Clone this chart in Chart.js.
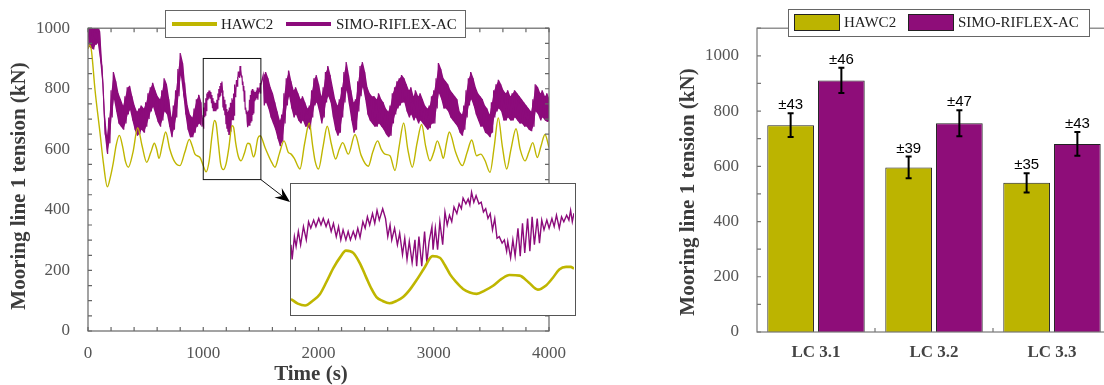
<!DOCTYPE html>
<html><head><meta charset="utf-8">
<script src="https://cdn.jsdelivr.net/npm/chart.js@4.4.1/dist/chart.umd.min.js"></script>
<style>
html,body{margin:0;padding:0;background:#fff;overflow:hidden;width:1104px;height:385px;}
#wrap{position:relative;width:1104px;height:385px;overflow:hidden;background:#fff;}
#cL{position:absolute;left:0;top:0;}
#inset{position:absolute;left:290px;top:183px;width:286px;height:133px;box-sizing:border-box;border:1.5px solid #555;background:#fff;}
#cI{display:block;}
#cR{position:absolute;left:660px;top:0;}
</style></head><body>
<div id="wrap">
<canvas id="cL" width="580" height="385"></canvas>
<div id="inset"><canvas id="cI" width="283" height="130"></canvas></div>
<canvas id="cR" width="460" height="385"></canvas>
</div>
<script>
// ---------- data ----------
const seriesNames = ['HAWC2', 'SIMO-RIFLEX-AC'];
const xTicks = [0, 1000, 2000, 3000, 4000];
const yTicksL = [0, 200, 400, 600, 800, 1000];
const yTicksR = [0, 200, 400, 600, 800, 1000];
const xTitle = 'Time (s)';
const yTitle = 'Mooring line 1 tension (kN)';

// HAWC2 time series (s, kN)
const hawcT = [0,15,30,61,104,133,168,195,220,245,272,300,325,350,390,431,470,509,545,576,596,616,645,674,710,750,798,840,879,905,928,972,
1000,1025,1051,1075,1097,1110,1133,1151,1174,1198,1221,1250,1263,1281,1304,1328,1357,1386,1404,1436,1450,1474,1494,
1536,1594,1622,1660,1701,1738,1760,1790,1839,1880,1920,1950,1970,2000,2040,2076,2110,2149,2180,2210,2259,2317,2370,2432,2470,2513,2545,2577,2620,2664,2700,2739,2775,2814,2855,2895,2930,2967,
3000,3031,3060,3083,3110,3135,3190,3248,3290,3329,3372,3407,3445,3488,3525,3560,3595,3633,3670,3714,3750,3792,3825,3859,3899,3930,3965,4000];
const hawcV = [932,945,925,796,655,557,476,510,557,615,646,610,560,541,590,671,610,557,590,620,600,570,615,657,600,560,546,590,633,610,584,573,
546,526,561,642,695,688,612,552,533,552,602,678,673,622,577,562,587,620,618,575,587,637,645,
606,557,541,585,628,590,585,570,535,620,687,610,562,535,610,676,620,568,600,622,584,649,580,544,590,628,600,584,579,530,610,687,600,541,620,682,610,562,
590,628,600,570,620,657,590,546,590,631,579,584,563,524,610,704,610,535,600,668,600,562,590,622,573,610,649,606];

// SIMO-RIFLEX-AC envelope of the wave-frequency band (s, upper kN, lower kN)
const simoT = [0,20,40,60,80,100,120,140,160,180,200,220,240,260,280,300,320,340,360,380,400,420,440,460,480,500,520,540,560,580,600,620,640,660,680,700,720,740,760,780,800,820,840,860,880,900,920,940,960,980,
1520,1540,1560,1580,1600,1620,1640,1660,1680,1700,1720,1740,1760,1780,1800,1820,1840,1860,1880,1900,1920,1940,1960,1980,
2000,2020,2040,2060,2080,2100,2120,2140,2160,2180,2200,2220,2240,2260,2280,2300,2320,2340,2360,2380,2400,2420,2440,2460,2480,2500,2520,2540,2560,2580,2600,2620,2640,2660,2680,2700,2720,2740,2760,2780,2800,2820,2840,2860,2880,2900,2920,2940,2960,2980,
3000,3020,3040,3060,3080,3100,3120,3140,3160,3180,3200,3220,3240,3260,3280,3300,3320,3340,3360,3380,3400,3420,3440,3460,3480,3500,3520,3540,3560,3580,3600,3620,3640,3660,3680,3700,3720,3740,3760,3780,3800,3820,3840,3860,3880,3900,3920,3940,3960,3980,4000];
const simoHi = [1010,1010,1005,1010,1015,990,875,725,645,705,795,855,825,785,765,745,775,805,810,775,745,725,735,745,735,755,785,805,820,795,775,765,795,835,815,765,705,745,795,865,918,885,805,745,715,705,735,765,780,755,
845,855,835,805,785,755,725,695,715,785,835,860,825,795,805,785,765,775,755,735,745,795,835,845,
815,775,805,855,875,845,805,765,745,765,805,855,888,845,795,755,765,825,875,888,855,805,785,775,775,765,785,765,755,735,725,745,785,805,825,835,845,835,815,795,805,775,795,775,785,765,745,735,745,775,
795,835,885,865,835,825,815,795,785,775,765,725,715,745,795,835,855,835,805,785,775,765,745,735,715,755,795,815,830,815,795,785,795,775,785,795,785,775,765,755,745,735,725,765,815,805,785,795,775,785,765];
const simoLo = [940,935,930,945,950,895,815,650,585,620,705,765,725,685,675,665,685,715,730,695,665,645,650,665,655,675,700,725,740,715,690,675,695,725,715,675,640,665,705,775,845,785,715,665,640,640,655,675,685,675,
745,755,735,705,685,665,635,610,625,685,745,775,735,705,715,695,685,695,675,675,665,705,745,755,
725,685,705,755,775,755,705,665,645,655,705,755,795,745,695,655,665,725,775,805,765,715,695,685,675,675,685,675,665,650,640,645,685,715,735,745,755,755,725,705,715,695,705,685,695,685,675,665,670,685,
685,735,785,765,735,735,725,705,695,685,675,655,645,665,705,745,765,745,715,695,675,675,655,650,640,655,705,725,735,725,695,695,705,695,695,705,695,685,685,675,675,665,660,675,725,715,695,705,695,690,695];

// Zoomed window 1000-1500 s (inset)
const insetT = [1000,1002,1006,1009,1013,1017,1022,1027,1031,1035,1040,1044,1049,1053,1057,1062,1066,1071,1075,1080,1084,1088,1092,1097,1101,1105,1110,1114,1118,1122,1127,1131,1135,1139,1144,1148,1152,1156,1162,1167,1171,1175,1178,1183,1188,1192,1197,1201,1205,1209,1214,1219,1222,1226,1231,1236,1240,1244,1249,
1251,1255,1259,1263,1268,1272,1276,1280,1284,1288,1293,1297,1301,1304,1309,1313,1316,1319,1323,1327,1332,1336,1340,1344,1348,1352,1356,1360,1364,1368,1373,1377,1381,1383,1388,1392,1396,1401,1405,1409,1413,1418,1422,1426,1430,1435,1439,1443,1447,1452,1456,1461,1465,1469,1474,1478,1482,1487,1491,1494,1497,1500];
const insetSimo = [713,668,738,708,754,713,769,728,784,764,789,769,794,774,794,769,789,754,779,738,769,728,759,728,754,728,754,733,764,736,784,764,799,774,809,779,819,789,824,794,738,774,728,764,713,749,683,733,668,723,658,728,647,738,647,754,658,723,769,
698,764,698,784,713,814,774,804,784,829,809,839,824,857,839,854,836,875,844,864,839,844,814,824,794,809,759,794,733,738,718,728,693,723,673,728,678,764,678,779,688,794,693,799,713,794,718,789,759,789,764,794,769,804,764,799,784,804,789,819,784,810];
const insetHawcT = [1000,1012,1025,1038,1051,1063,1075,1087,1097,1110,1122,1133,1142,1151,1162,1174,1186,1198,1210,1221,1235,1250,1263,1272,1281,1292,1304,1316,1328,1342,1357,1372,1386,1404,1420,1436,1450,1462,1474,1486,1494,1500];
const insetHawcV = [546,532,526,540,561,600,642,675,695,688,655,612,578,552,540,533,540,552,575,602,640,678,673,650,622,598,577,566,562,572,587,608,620,618,597,575,587,610,637,645,645,640];
const zoomWin = {x0:1000, x1:1500, y0:500, y1:900};

// Mean tension per load case (kN) and standard deviation
const caseLabels = ['LC 3.1', 'LC 3.2', 'LC 3.3'];
const hawcMean = [749, 596, 540];
const hawcStd = [43, 39, 35];
const simoMean = [911, 756, 681];
const simoStd = [46, 47, 43];

// ---------- styles ----------
const YEL = '#bfb600', PUR = '#8c0b7b';
const YELB = '#bcb400', PURB = '#8e0d79';
const SERIF = '"Liberation Serif", "Times New Roman", serif';
const SANS = '"Liberation Sans", Arial, sans-serif';
Chart.defaults.font.family = SERIF;

// build point lists
const hawcPts = hawcT.map((t,i)=>({x:t, y:hawcV[i]}));
const simoPts = [];
function pushEnv(i){ simoPts.push({x:simoT[i], y:simoHi[i]}); simoPts.push({x:simoT[i]+10, y:simoLo[i]}); }
for (let i=0;i<simoT.length;i++) if (simoT[i] < zoomWin.x0) pushEnv(i);
for (let i=0;i<insetT.length;i++) simoPts.push({x:insetT[i], y:insetSimo[i]});
for (let i=0;i<simoT.length;i++) if (simoT[i] > zoomWin.x1) pushEnv(i);
const bandHiA = [], bandLoA = [], bandHiB = [], bandLoB = [];
for (let i=0;i<simoT.length;i++){
  if (simoT[i] < zoomWin.x0){ bandHiA.push({x:simoT[i]+5, y:simoHi[i]}); bandLoA.push({x:simoT[i]+5, y:simoLo[i]}); }
  else { bandHiB.push({x:simoT[i]+5, y:simoHi[i]}); bandLoB.push({x:simoT[i]+5, y:simoLo[i]}); }
}
const insetSimoPts = insetT.map((t,i)=>({x:t, y:insetSimo[i]}));
const insetHawcPts = insetHawcT.map((t,i)=>({x:t, y:insetHawcV[i]}));

function vTitle(ctx, text, cx, cy){
  ctx.save(); ctx.translate(cx, cy); ctx.rotate(-Math.PI/2);
  ctx.font = 'bold 21px ' + SERIF; ctx.fillStyle = '#3c3c3c';
  ctx.textAlign = 'center'; ctx.textBaseline = 'middle';
  ctx.fillText(text, 0, 0); ctx.restore();
}

const leftDeco = {
  id: 'leftDeco',
  afterDraw(chart){
    const {ctx, chartArea:a, scales:{x, y}} = chart;
    ctx.save();
    ctx.strokeStyle = '#666'; ctx.lineWidth = 1.2;
    ctx.strokeRect(a.left, a.top, a.right-a.left, a.bottom-a.top);
    ctx.beginPath();
    for (let v=0; v<=4000; v+=200){ const px=x.getPixelForValue(v); ctx.moveTo(px,a.bottom); ctx.lineTo(px,a.bottom-4); ctx.moveTo(px,a.top); ctx.lineTo(px,a.top+4); }
    for (let v=0; v<=1000; v+=50){ const py=y.getPixelForValue(v); ctx.moveTo(a.left,py); ctx.lineTo(a.left+4,py); ctx.moveTo(a.right,py); ctx.lineTo(a.right-4,py); }
    ctx.stroke();
    // zoom window rectangle
    const rx0 = x.getPixelForValue(zoomWin.x0), rx1 = x.getPixelForValue(zoomWin.x1);
    const ry0 = y.getPixelForValue(zoomWin.y1), ry1 = y.getPixelForValue(zoomWin.y0);
    ctx.strokeStyle = '#111'; ctx.lineWidth = 1;
    ctx.strokeRect(rx0, ry0, rx1-rx0, ry1-ry0);
    // arrow to inset
    const ib = document.getElementById('inset');
    const tx = ib.offsetLeft, ty = ib.offsetTop + 19;
    const sx = rx1, sy = ry1;
    const ang = Math.atan2(ty-sy, tx-sx);
    ctx.beginPath(); ctx.moveTo(sx, sy); ctx.lineTo(tx - 10*Math.cos(ang), ty - 10*Math.sin(ang)); ctx.stroke();
    const L = 15, W = 6;
    const bx = tx - L*Math.cos(ang), by = ty - L*Math.sin(ang);
    const nx = -Math.sin(ang), ny = Math.cos(ang);
    const mx = tx - 0.65*L*Math.cos(ang), my = ty - 0.65*L*Math.sin(ang);
    ctx.fillStyle = '#000';
    ctx.beginPath(); ctx.moveTo(tx, ty); ctx.lineTo(bx + W*nx, by + W*ny); ctx.lineTo(mx, my); ctx.lineTo(bx - W*nx, by - W*ny); ctx.closePath(); ctx.fill();
    // legend
    ctx.fillStyle = '#fff'; ctx.strokeStyle = '#666'; ctx.lineWidth = 1;
    ctx.fillRect(165.5, 10.5, 300, 27); ctx.strokeRect(165.5, 10.5, 300, 27);
    const ly = 24;
    const items = [{x0:172, x1:217, tx:221}, {x0:286, x1:331, tx:336}];
    ctx.font = '15px ' + SERIF; ctx.textBaseline = 'middle'; ctx.textAlign = 'left';
    chart.data.datasets.slice(0, 2).forEach((ds, i) => {
      const it = items[i];
      ctx.strokeStyle = ds.borderColor; ctx.lineWidth = 4;
      ctx.beginPath(); ctx.moveTo(it.x0, ly); ctx.lineTo(it.x1, ly); ctx.stroke();
      ctx.fillStyle = '#222'; ctx.fillText(ds.label, it.tx, ly + 1);
    });
    // titles
    vTitle(ctx, yTitle, 20, 186);
    ctx.font = 'bold 21px ' + SERIF; ctx.fillStyle = '#3c3c3c'; ctx.textAlign = 'center'; ctx.textBaseline = 'middle';
    ctx.fillText(xTitle, 311, 375);
    ctx.restore();
  }
};

const bandStyle = {borderWidth: 0, pointRadius: 0, tension: 0, borderColor: PUR, backgroundColor: PUR, order: 2};
new Chart(document.getElementById('cL'), {
  type: 'line',
  data: { datasets: [
    {label: seriesNames[0], data: hawcPts, borderColor: YEL, borderWidth: 1.4, pointRadius: 0, cubicInterpolationMode: 'monotone', order: 0, fill: false},
    {label: seriesNames[1], data: simoPts, borderColor: PUR, borderWidth: 1.2, pointRadius: 0, tension: 0, order: 1, fill: false},
    Object.assign({label: 'bandA', data: bandHiA, fill: '+1'}, bandStyle),
    Object.assign({label: 'bandA2', data: bandLoA, fill: false}, bandStyle),
    Object.assign({label: 'bandB', data: bandHiB, fill: '+1'}, bandStyle),
    Object.assign({label: 'bandB2', data: bandLoB, fill: false}, bandStyle)
  ]},
  options: {
    responsive: false, animation: false, devicePixelRatio: 1,
    layout: {padding: {left: 0, top: 24, right: 31, bottom: 0}},
    plugins: {legend: {display: false}, tooltip: {enabled: false}},
    scales: {
      x: {type: 'linear', min: 0, max: 4000,
          ticks: {stepSize: 1000, padding: 12, color: '#555', font: {size: 17, family: SERIF}, maxRotation: 0,
                  callback: v => xTicks.includes(v) ? String(v) : ''},
          grid: {display: false, drawTicks: false}, border: {display: false},
          afterFit(s){ s.height = 54; }},
      y: {min: 0, max: 1000,
          ticks: {stepSize: 200, padding: 18, color: '#555', font: {size: 17, family: SERIF},
                  callback: v => yTicksL.includes(v) ? String(v) : ''},
          grid: {display: false, drawTicks: false}, border: {display: false},
          afterFit(s){ s.width = 88; }}
    }
  },
  plugins: [leftDeco]
});

new Chart(document.getElementById('cI'), {
  type: 'line',
  data: { datasets: [
    {label: seriesNames[0], data: insetHawcPts, borderColor: YEL, borderWidth: 2.6, pointRadius: 0, cubicInterpolationMode: 'monotone'},
    {label: seriesNames[1], data: insetSimoPts, borderColor: PUR, borderWidth: 1.4, pointRadius: 0, tension: 0}
  ]},
  options: {
    responsive: false, animation: false, devicePixelRatio: 1,
    layout: {padding: 0},
    plugins: {legend: {display: false}, tooltip: {enabled: false}},
    scales: {
      x: {type: 'linear', display: false, min: zoomWin.x0, max: zoomWin.x1},
      y: {display: false, min: zoomWin.y0, max: zoomWin.y1}
    }
  }
});

const rightDeco = {
  id: 'rightDeco',
  afterDraw(chart){
    const {ctx, chartArea:a, scales:{x, y}} = chart;
    ctx.save();
    ctx.strokeStyle = '#777'; ctx.lineWidth = 1.2;
    ctx.strokeRect(a.left, a.top, a.right-a.left, a.bottom-a.top);
    ctx.beginPath();
    for (let v=0; v<=1100; v+=100){ const py=y.getPixelForValue(v); ctx.moveTo(a.left,py); ctx.lineTo(a.left+4,py); }
    for (let j=1; j<caseLabels.length; j++){ const px=(x.getPixelForValue(j-1)+x.getPixelForValue(j))/2; ctx.moveTo(px,a.bottom); ctx.lineTo(px,a.bottom-4); }
    ctx.stroke();
    // error bars and labels
    const errs = [hawcStd, simoStd];
    chart.data.datasets.forEach((ds, i) => {
      const meta = chart.getDatasetMeta(i);
      meta.data.forEach((bar, j) => {
        const m = ds.data[j], e = errs[i][j];
        const yt = y.getPixelForValue(m+e), yb = y.getPixelForValue(m-e);
        ctx.strokeStyle = '#000'; ctx.lineWidth = 2;
        ctx.beginPath();
        ctx.moveTo(bar.x, yt); ctx.lineTo(bar.x, yb);
        ctx.moveTo(bar.x-3, yt); ctx.lineTo(bar.x+3, yt);
        ctx.moveTo(bar.x-3, yb); ctx.lineTo(bar.x+3, yb);
        ctx.stroke();
        ctx.fillStyle = '#000'; ctx.font = '15px ' + SANS; ctx.textAlign = 'center'; ctx.textBaseline = 'alphabetic';
        ctx.fillText('\u00b1' + e, bar.x, yt - 4);
      });
    });
    // legend
    const ox = chart.canvas.offsetLeft;
    ctx.fillStyle = '#fff'; ctx.strokeStyle = '#666'; ctx.lineWidth = 1;
    ctx.fillRect(788.5-ox, 9.5, 301, 27); ctx.strokeRect(788.5-ox, 9.5, 301, 27);
    const items = [{x0:794, tx:844}, {x0:908, tx:958}];
    ctx.font = '15px ' + SERIF; ctx.textBaseline = 'middle'; ctx.textAlign = 'left';
    chart.data.datasets.forEach((ds, i) => {
      const it = items[i];
      ctx.fillStyle = ds.backgroundColor; ctx.fillRect(it.x0-ox+0.5, 14.5, 45, 16);
      ctx.strokeStyle = '#222'; ctx.strokeRect(it.x0-ox+0.5, 14.5, 45, 16);
      ctx.fillStyle = '#222'; ctx.fillText(ds.label, it.tx-ox, 23.5);
    });
    vTitle(ctx, yTitle, 689-ox, 192);
    ctx.restore();
  }
};

new Chart(document.getElementById('cR'), {
  type: 'bar',
  data: { labels: caseLabels, datasets: [
    {label: seriesNames[0], data: hawcMean, backgroundColor: YELB, borderColor: '#222', borderWidth: 1, categoryPercentage: 0.86, barPercentage: 0.92},
    {label: seriesNames[1], data: simoMean, backgroundColor: PURB, borderColor: '#222', borderWidth: 1, categoryPercentage: 0.86, barPercentage: 0.92}
  ]},
  options: {
    responsive: false, animation: false, devicePixelRatio: 1,
    layout: {padding: {left: 0, top: 24, right: 9, bottom: 0}},
    plugins: {legend: {display: false}, tooltip: {enabled: false}},
    scales: {
      x: {ticks: {padding: 10, color: '#444', font: {size: 17, weight: 'bold', family: SERIF}, maxRotation: 0},
          grid: {display: false, drawTicks: false}, border: {display: false},
          afterFit(s){ s.height = 53; }},
      y: {min: 0, max: 1100,
          ticks: {stepSize: 200, includeBounds: false, padding: 18, color: '#555', font: {size: 17, family: SERIF},
                  callback: v => yTicksR.includes(v) ? String(v) : ''},
          grid: {display: false, drawTicks: false}, border: {display: false},
          afterFit(s){ s.width = 97; }}
    }
  },
  plugins: [rightDeco]
});
</script>
</body></html>
